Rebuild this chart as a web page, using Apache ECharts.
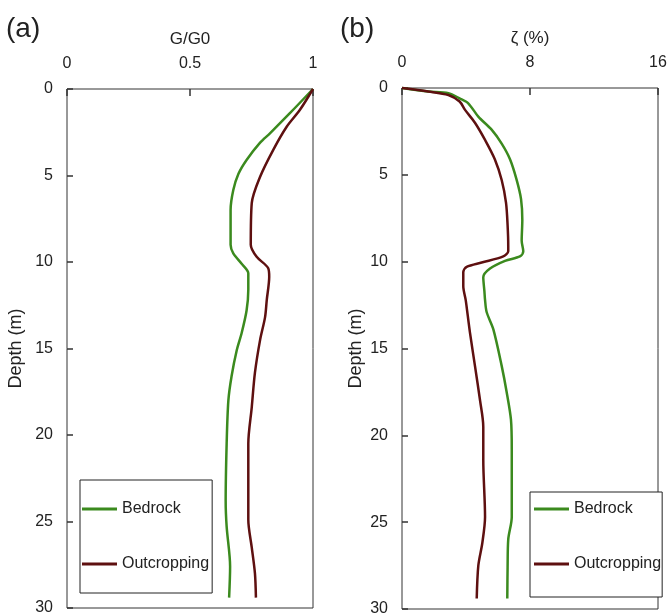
<!DOCTYPE html>
<html>
<head>
<meta charset="utf-8">
<script src="https://cdn.jsdelivr.net/npm/echarts@6/dist/echarts.min.js"></script>
<style>
  html, body { margin: 0; padding: 0; background: #fff; }
  #chart { width: 671px; height: 615px; }
</style>
</head>
<body>
<div id="chart"></div>
<script>
// Shear modulus reduction G/G0 with depth
const depthGBedrock = [0, 1.4, 2.56, 3.1, 4.1, 4.9, 5.84, 7.0, 9.0, 9.5, 10.1, 10.65, 11.6, 12.8, 14.1, 15.1, 16.6, 18.0, 20.5, 23.8, 25.3, 27.6, 29.4];
const gBedrock      = [1.0, 0.906, 0.825, 0.785, 0.730, 0.697, 0.676, 0.665, 0.665, 0.676, 0.710, 0.737, 0.737, 0.730, 0.710, 0.690, 0.669, 0.656, 0.649, 0.645, 0.649, 0.663, 0.659];
const depthGOutcrop = [0, 1.2, 2.18, 3.5, 5.07, 6.6, 9.0, 9.7, 10.36, 10.85, 12.2, 13.2, 14.5, 16.4, 18.4, 20.5, 24.9, 26.5, 28.0, 29.4];
const gOutcrop      = [1.0, 0.947, 0.893, 0.839, 0.785, 0.751, 0.747, 0.771, 0.818, 0.822, 0.812, 0.805, 0.785, 0.764, 0.751, 0.737, 0.737, 0.751, 0.764, 0.768];

// Damping ratio ζ (%) with depth
const depthDBedrock = [0, 0.2, 0.3, 0.6, 0.88, 1.65, 2.4, 3.2, 4.1, 5.3, 6.4, 7.6, 8.8, 9.4, 9.7, 9.95, 10.4, 10.9, 11.7, 12.2, 12.9, 13.9, 16.0, 17.5, 19.1, 20.8, 24.7, 26.0, 27.6, 29.4];
const dBedrock      = [0, 1.64, 2.9, 3.6, 4.14, 4.77, 5.6, 6.23, 6.75, 7.17, 7.44, 7.52, 7.48, 7.58, 7.37, 6.44, 5.5, 5.08, 5.15, 5.19, 5.29, 5.71, 6.23, 6.54, 6.81, 6.86, 6.86, 6.64, 6.6, 6.58];
const depthDOutcrop = [0, 0.2, 0.4, 0.78, 1.26, 2.0, 2.99, 4.1, 5.3, 6.6, 7.9, 9.1, 9.4, 9.7, 10.05, 10.3, 10.6, 11.4, 12.2, 12.6, 14.1, 16.0, 18.0, 19.5, 21.4, 24.7, 26.2, 27.5, 29.4];
const dOutcrop      = [0, 1.64, 2.9, 3.6, 3.94, 4.56, 5.19, 5.8, 6.23, 6.5, 6.6, 6.64, 6.64, 6.33, 4.98, 4.04, 3.83, 3.83, 3.98, 4.04, 4.25, 4.56, 4.88, 5.08, 5.08, 5.19, 5.02, 4.77, 4.67];

const seriesNames = ['Bedrock', 'Outcropping'];
const depthTicks = [0, 5, 10, 15, 20, 25, 30];

const GREEN = '#3b8a1e';
const DARKRED = '#5e1010';
const FONT = 'Liberation Sans, Arial, sans-serif';
const TEXT = '#222';

function pairs(xs, ds) { return xs.map((x, i) => [x, ds[i]]); }

const chart = echarts.init(document.getElementById('chart'), null, { renderer: 'canvas' });

function xAxisDef(gridIndex, name, min, max, interval) {
  return {
    gridIndex, type: 'value', position: 'top', min, max, interval,
    name, nameLocation: 'middle', nameGap: 41,
    nameTextStyle: { fontFamily: FONT, fontSize: 17, color: TEXT },
    axisLine: { show: false },
    axisTick: { show: true, inside: true, length: 7, lineStyle: { color: '#333', width: 1.5 } },
    axisLabel: { fontFamily: FONT, fontSize: 16, color: TEXT, margin: 17 },
    splitLine: { show: false }
  };
}
function yAxisDef(gridIndex, gap) {
  return {
    gridIndex, type: 'value', inverse: true, min: depthTicks[0], max: depthTicks[depthTicks.length - 1], interval: 5,
    name: 'Depth (m)', nameLocation: 'middle', nameGap: gap,
    nameTextStyle: { fontFamily: FONT, fontSize: 18, color: TEXT },
    axisLine: { show: false },
    axisTick: { show: true, inside: true, length: 6, lineStyle: { color: '#333', width: 1.5 } },
    axisLabel: { fontFamily: FONT, fontSize: 16, color: TEXT, margin: 14 },
    splitLine: { show: false }
  };
}
function lineSeries(name, color, gi, data) {
  return {
    name, type: 'line', xAxisIndex: gi, yAxisIndex: gi, data,
    symbol: 'none', smooth: 0.3, clip: false, animation: false,
    lineStyle: { color, width: 2.5 }, itemStyle: { color }
  };
}
function legendDef(left, top, padding) {
  return {
    orient: 'vertical', left, top, data: seriesNames,
    icon: 'rect', itemWidth: 35, itemHeight: 3, itemGap: 39, padding,
    borderColor: '#222', borderWidth: 1, backgroundColor: '#fff',
    textStyle: { fontFamily: FONT, fontSize: 16, color: TEXT },
    selectedMode: false
  };
}

chart.setOption({
  animation: false,
  grid: [
    { left: 67, top: 89, width: 246, height: 519, show: true, borderColor: '#333', borderWidth: 1, outerBoundsMode: 'none' },
    { left: 402, top: 88, width: 256, height: 521, show: true, borderColor: '#333', borderWidth: 1, outerBoundsMode: 'none' }
  ],
  xAxis: [
    xAxisDef(0, 'G/G0', 0, 1, 0.5),
    xAxisDef(1, 'ζ (%)', 0, 16, 8)
  ],
  yAxis: [yAxisDef(0, 42), yAxisDef(1, 37)],
  legend: [legendDef(80, 480, [21, 3, 21, 2]), legendDef(530, 492, [9, 1, 25, 4])],
  series: [
    lineSeries(seriesNames[0], GREEN, 0, pairs(gBedrock, depthGBedrock)),
    lineSeries(seriesNames[1], DARKRED, 0, pairs(gOutcrop, depthGOutcrop)),
    lineSeries(seriesNames[0], GREEN, 1, pairs(dBedrock, depthDBedrock)),
    lineSeries(seriesNames[1], DARKRED, 1, pairs(dOutcrop, depthDOutcrop))
  ],
  graphic: [
    { type: 'text', left: 6, top: 15, style: { text: '(a)', fontFamily: FONT, fontSize: 28, fill: TEXT } },
    { type: 'text', left: 340, top: 15, style: { text: '(b)', fontFamily: FONT, fontSize: 28, fill: TEXT } }
  ]
});
</script>
</body>
</html>
